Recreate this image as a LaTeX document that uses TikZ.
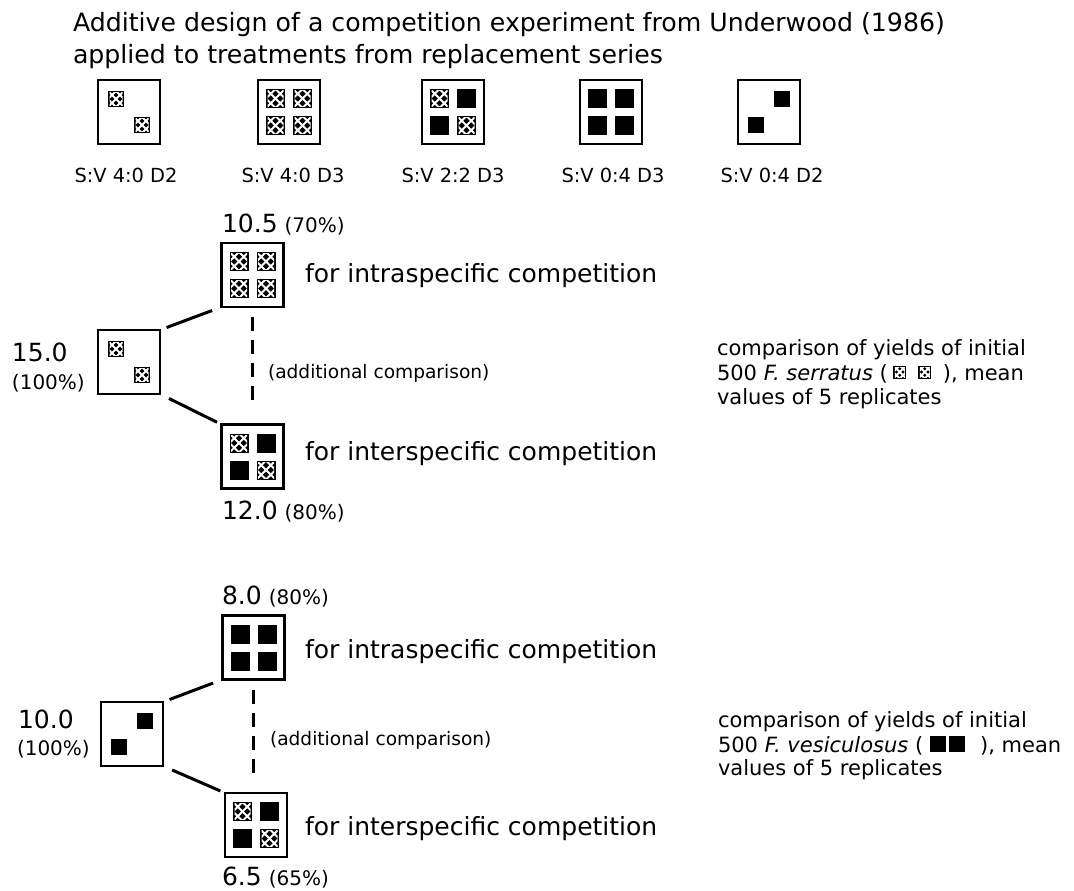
\documentclass[tikz,border=0pt]{standalone}
\usepackage{fontspec}
\setmainfont{DejaVu Sans}[ItalicFont={DejaVu Sans Oblique}]
\usetikzlibrary{calc}

\tikzset{
  plot/.style={draw=black, line width=2.8pt, minimum width=62pt, minimum height=64pt, inner sep=0pt, outer sep=0pt},
  link/.style={line width=3pt},
  extra/.style={line width=2.4pt, dash pattern=on 14pt off 9pt},
  txt/.style={anchor=base west, inner sep=0pt, outer sep=0pt},
  captxt/.style={anchor=base, inner sep=0pt, outer sep=0pt, font=\fontsize{19.4}{23}\selectfont},
  headfont/.style={font=\fontsize{25.2}{30}\selectfont},
  bigfont/.style={font=\fontsize{25}{30}\selectfont},
  midfont/.style={font=\fontsize{21}{25}\selectfont},
  pctfont/.style={font=\fontsize{20}{24}\selectfont},
  notefont/.style={font=\fontsize{18.6}{22}\selectfont},
  % F. serratus plant: black square with a white lattice
  pics/ser/.style={code={
    \fill[black] (-#1/2,-#1/2) rectangle (#1/2,#1/2);
    \begin{scope}
      \clip (-#1/2+1.5,-#1/2+1.5) rectangle (#1/2-1.5,#1/2-1.5);
      \draw[white, line width=1.9pt] (-#1/2,-#1/2) -- (#1/2,#1/2) (-#1/2,#1/2) -- (#1/2,-#1/2)
        (0,-#1/2) -- (#1/2,0) -- (0,#1/2) -- (-#1/2,0) -- cycle;
    \end{scope}
  }},
  % F. vesiculosus plant: solid black square
  pics/ves/.style={code={
    \fill[black] (-#1/2,-#1/2) rectangle (#1/2,#1/2);
  }},
}

% plant layouts inside a plot
\newcommand\tilesDser[1]{\pic at ($(#1)+(-13,-13)$) {ser=16}; \pic at ($(#1)+(13,13)$) {ser=16};}
\newcommand\tilesDves[1]{\pic at ($(#1)+(13,-13)$) {ves=16}; \pic at ($(#1)+(-13,13)$) {ves=16};}
\newcommand\tilesQser[1]{\foreach \dx in {-13.5,13.5}{\foreach \dy in {-13.5,13.5}{\pic at ($(#1)+(\dx,\dy)$) {ser=19};}}}
\newcommand\tilesQves[1]{\foreach \dx in {-13.5,13.5}{\foreach \dy in {-13.5,13.5}{\pic at ($(#1)+(\dx,\dy)$) {ves=19};}}}
\newcommand\tilesQmix[1]{\pic at ($(#1)+(-13.5,-13.5)$) {ser=19}; \pic at ($(#1)+(13.5,-13.5)$) {ves=19};
  \pic at ($(#1)+(-13.5,13.5)$) {ves=19}; \pic at ($(#1)+(13.5,13.5)$) {ser=19};}

\begin{document}
\begin{tikzpicture}[x=1pt, y=-1pt]
\fill[white] (0,0) rectangle (1074,891);
\useasboundingbox (0,0) rectangle (1074,891);

% heading
\node[txt,headfont] (h1) at (73,32) {Additive design of a competition experiment from Underwood (1986)};
\node[txt,headfont] (h2) at (73,64) {applied to treatments from replacement series};

% treatments of the replacement series
\node[plot] (r1) at (129,112) {};
\node[plot] (r2) at (289,112) {};
\node[plot] (r3) at (453,112) {};
\node[plot] (r4) at (611,112) {};
\node[plot] (r5) at (769,112) {};
\tilesDser{r1} \tilesQser{r2} \tilesQmix{r3} \tilesQves{r4} \tilesDves{r5}
\node[captxt] (k1) at (126,182) {S:V 4:0 D2};
\node[captxt] (k2) at (293,182) {S:V 4:0 D3};
\node[captxt] (k3) at (453,182) {S:V 2:2 D3};
\node[captxt] (k4) at (613,182) {S:V 0:4 D3};
\node[captxt] (k5) at (772,182) {S:V 0:4 D2};

% ---- F. serratus comparison ----
\node[plot] (L1) at (129,362) {};
\node[plot] (T1) at (252.5,275) {};
\node[plot] (B1) at (252.5,456.5) {};
\tilesDser{L1} \tilesQser{T1} \tilesQmix{B1}
\draw[link, shorten <=7pt, shorten >=10pt] (L1.north east) -- (T1.south west);
\draw[link, shorten <=10pt, shorten >=5pt] (L1.south east) -- (B1.north west);
\draw[extra, shorten <=10pt, shorten >=18pt] (T1.south) -- (B1.north);

\node[txt,bigfont] (v1) at (12,361) {15.0};
\node[txt,pctfont] (p1) at (12,389) {(100\%)};
\node[txt] (n1) at (222,232) {\fontsize{25}{30}\selectfont 10.5\hspace{7pt}\fontsize{20}{24}\selectfont(70\%)};
\node[txt] (m1) at (222,519) {\fontsize{25}{30}\selectfont 12.0\hspace{7pt}\fontsize{20}{24}\selectfont(80\%)};
\node[txt,bigfont] (a1) at (305,282) {for intraspecific competition};
\node[txt,bigfont] (e1) at (305,460) {for interspecific competition};
\node[txt,notefont] (c1) at (268,378) {(additional comparison)};

\node[txt,midfont] (s1) at (717,355) {comparison of yields of initial};
\node[txt,midfont] (s2) at (717,380) {500 \textit{F. serratus} (};
\pic at ($(s2.base east)+(12,-8)$) {ser=13};
\pic at ($(s2.base east)+(37,-8)$) {ser=13};
\node[txt,midfont] (s3) at ($(s2.base east)+(55,0)$) {), mean};
\node[txt,midfont] (s4) at (717,404) {values of 5 replicates};

% ---- F. vesiculosus comparison ----
\node[plot] (L2) at (132,734) {};
\node[plot] (T2) at (253.5,647.5) {};
\node[plot] (B2) at (256,825) {};
\tilesDves{L2} \tilesQves{T2} \tilesQmix{B2}
\draw[link, shorten <=7pt, shorten >=10pt] (L2.north east) -- (T2.south west);
\draw[link, shorten <=10pt, shorten >=5pt] (L2.south east) -- (B2.north west);
\draw[extra, shorten <=10pt, shorten >=16pt] (T2.south) -- (T2.south |- B2.north);

\node[txt,bigfont] (v2) at (18,728) {10.0};
\node[txt,pctfont] (p2) at (17,755) {(100\%)};
\node[txt] (n2) at (222,604) {\fontsize{25}{30}\selectfont 8.0\hspace{7pt}\fontsize{20}{24}\selectfont(80\%)};
\node[txt] (m2) at (222,885) {\fontsize{25}{30}\selectfont 6.5\hspace{7pt}\fontsize{20}{24}\selectfont(65\%)};
\node[txt,bigfont] (a2) at (305,658) {for intraspecific competition};
\node[txt,bigfont] (e2) at (305,835) {for interspecific competition};
\node[txt,notefont] (c2) at (270,745) {(additional comparison)};

\node[txt,midfont] (t1) at (718,727) {comparison of yields of initial};
\node[txt,midfont] (t2) at (718,752) {500 \textit{F. vesiculosus} (};
\pic at ($(t2.base east)+(15,-8)$) {ves=16};
\pic at ($(t2.base east)+(34,-8)$) {ves=16};
\node[txt,midfont] (t3) at ($(t2.base east)+(57,0)$) {), mean};
\node[txt,midfont] (t4) at (718,775) {values of 5 replicates};
\end{tikzpicture}
\end{document}
